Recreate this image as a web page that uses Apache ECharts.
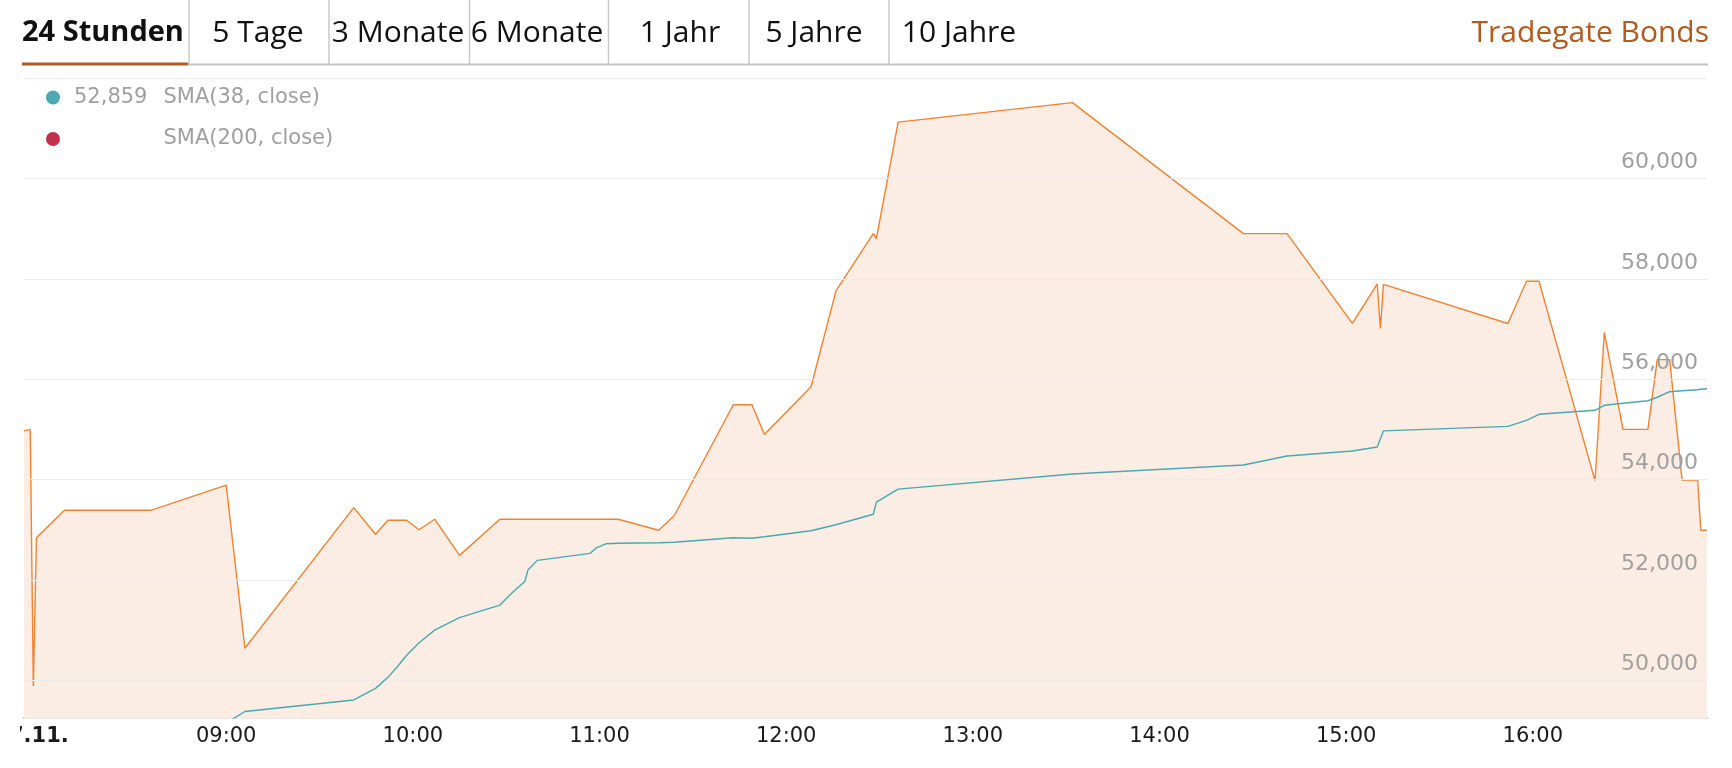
<!DOCTYPE html>
<html><head><meta charset="utf-8">
<script src="https://cdn.jsdelivr.net/npm/echarts@6/dist/echarts.min.js"></script>
<style>
html,body{margin:0;padding:0;background:#fff;width:1732px;height:768px;overflow:hidden}
#c{position:absolute;left:20px;top:0;width:1712px;height:768px}
</style>
</head><body><div id="c"></div>
<script>
// ---- data ----
const times = ['07:55','07:57','07:58','07:59','08:08','08:36','09:00','09:06','09:41','09:48','09:52','09:55','09:58','10:02','10:07','10:15','10:28','10:32','10:36','10:37','10:40','10:57','10:59','11:02','11:06','11:19','11:24','11:43','11:49','11:53','12:08','12:16','12:28','12:29','12:36','13:32','14:27','14:41','15:02','15:10','15:11','15:12','15:52','15:58','16:02','16:20','16:23','16:29','16:37','16:40','16:44','16:48','16:53','16:54','16:56'];
const price = [54970,55000,49890,52840,53390,53390,53890,50640,53440,52910,53190,53190,53190,53000,53210,52490,53210,53210,53210,53210,53210,53210,53210,53210,53210,52990,53280,55490,55490,54900,55850,57760,58900,58800,61120,61510,58900,58900,57110,57900,57010,57890,57110,57950,57950,53980,56930,55000,55000,56390,56390,53990,53990,52990,52990];
const sma38 = [null,null,null,null,null,null,49150,49380,49610,49840,50060,50270,50500,50750,51000,51250,51500,51750,51970,52200,52390,52530,52640,52720,52730,52740,52750,52840,52830,52860,52980,53100,53310,53550,53810,54110,54290,54470,54570,54650,54810,54970,55060,55180,55300,55380,55480,55520,55570,55640,55750,55770,55790,55800,55810];
const xTickLabels = ['27.11.','09:00','10:00','11:00','12:00','13:00','14:00','15:00','16:00'];
const tabs = ['24 Stunden','5 Tage','3 Monate','6 Monate','1 Jahr','5 Jahre','10 Jahre'];
const legendNames = ['SMA(38, close)','SMA(200, close)'];
const legendValue = '52,859';
const sourceName = 'Tradegate Bonds';

// ---- helpers ----
const toMin = t => { const [h,m] = t.split(':').map(Number); return h*60+m; };
const xTickValues = xTickLabels.map((l,i)=> 480 + i*60);
const priceData = times.map((t,i)=>[toMin(t), price[i]]);
const smaData = times.map((t,i)=>[toMin(t), sma38[i]]).filter(d=>d[1]!==null);
const fmtNum = v => String(v).replace(/\B(?=(\d{3})+(?!\d))/g, ',');

const chart = echarts.init(document.getElementById('c'), null, {renderer:'canvas'});

// header layout (canvas coords)
const tabCenters = [null,238,378,517,660,794,939];
const seps = [169,309,449.5,588.5,729,869];
const graphic = [];
graphic.push({type:'text', x:2, y:33, style:{text:tabs[0], fill:'#111', font:'bold 29px "Open Sans"', textAlign:'left', textVerticalAlign:'middle'}});
for (let i=1;i<tabs.length;i++) {
  graphic.push({type:'text', x:tabCenters[i], y:33, style:{text:tabs[i], fill:'#111', font:'30px "Open Sans"', textAlign:'center', textVerticalAlign:'middle'}});
}
seps.forEach(x=>graphic.push({type:'line', shape:{x1:x,y1:0,x2:x,y2:64}, style:{stroke:'#c9c9c9', lineWidth:1.5}}));
graphic.push({type:'line', shape:{x1:168,y1:64.5,x2:1688,y2:64.5}, style:{stroke:'#c4c4c4', lineWidth:2}});
graphic.push({type:'line', shape:{x1:2,y1:64,x2:168,y2:64}, style:{stroke:'#b35a1f', lineWidth:3}});
graphic.push({type:'text', x:1689, y:33, style:{text:sourceName, fill:'#b35a1f', font:'30px "Open Sans"', textAlign:'right', textVerticalAlign:'middle'}});
// legend
graphic.push({type:'circle', shape:{cx:33, cy:97.5, r:7}, style:{fill:'#4fa9b4'}});
graphic.push({type:'circle', shape:{cx:33, cy:139, r:7}, style:{fill:'#c2304b'}});
graphic.push({type:'text', x:54, y:97.5, style:{text:legendValue, fill:'#a0a0a0', font:'21px "DejaVu Sans"', textAlign:'left', textVerticalAlign:'middle'}});
graphic.push({type:'text', x:143.5, y:97.5, style:{text:legendNames[0], fill:'#a0a0a0', font:'21px "DejaVu Sans"', textAlign:'left', textVerticalAlign:'middle'}});
graphic.push({type:'text', x:143.5, y:139, style:{text:legendNames[1], fill:'#a0a0a0', font:'21px "DejaVu Sans"', textAlign:'left', textVerticalAlign:'middle'}});

chart.setOption({
  animation:false,
  backgroundColor:'#fff',
  grid:{left:4, right:25, top:78, bottom:50, containLabel:false, outerBoundsMode:'none'},
  xAxis:{
    type:'value', min:475, max:1016,
    axisLine:{show:true, lineStyle:{color:'#bdbdbd', width:2}},
    axisTick:{show:false},
    splitLine:{show:false},
    axisLabel:{
      customValues:xTickValues, showMinLabel:true, showMaxLabel:true,
      margin:8, color:'#1a1a1a', fontSize:21, fontFamily:'DejaVu Sans',
      formatter:(v)=>{ const i = xTickValues.indexOf(v); if(i<0) return ''; return i===0 ? '{d|'+xTickLabels[0]+'}' : xTickLabels[i]; },
      rich:{d:{fontWeight:'bold', fontSize:21, fontFamily:'DejaVu Sans', color:'#1a1a1a', padding:[0,16,0,0]}}
    }
  },
  yAxis:{
    type:'value', position:'right', min:49250, max:62000, splitNumber:6, z:5,
    axisLine:{show:false}, axisTick:{show:false},
    splitLine:{show:true, lineStyle:{color:'#ececec', width:1}},
    axisLabel:{
      inside:true, margin:9, color:'#a0a0a0', fontSize:22, fontFamily:'DejaVu Sans',
      verticalAlign:'bottom', padding:[0,0,5,0], showMinLabel:false, showMaxLabel:false,
      formatter:(v)=> (v>=50000 && v<62000 && v%2000===0) ? fmtNum(v) : ''
    }
  },
  series:[
    {name:'Kurs', type:'line', data:priceData, symbol:'none', z:2,
     lineStyle:{color:'#f08232', width:1.4}, areaStyle:{color:'#fbede3', opacity:1, origin:'start'}},
    {name:legendNames[0], type:'line', data:smaData, symbol:'none', z:6,
     lineStyle:{color:'#4aa8b2', width:1.4}},
    {name:legendNames[1], type:'line', data:[], symbol:'none', lineStyle:{color:'#c2304b'}}
  ],
  graphic:graphic
});
</script>
</body></html>
